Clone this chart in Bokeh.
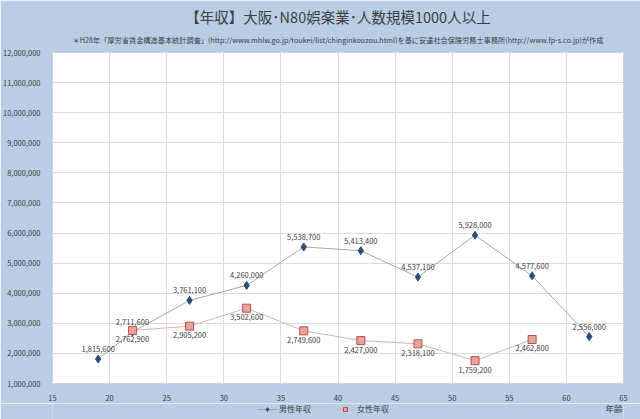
from bokeh.plotting import figure
from bokeh.layouts import column
from bokeh.models import (ColumnDataSource, Label, Legend, LegendItem, NumeralTickFormatter,
                          FixedTicker, Range1d, Title)
from bokeh.core.properties import value
from bokeh.embed import file_html
from bokeh.resources import INLINE

male_age = [19, 22, 27, 32, 37, 42, 47, 52, 57, 62]
male_income = [1815600, 2711600, 3761100, 4260000, 5538700, 5413400, 4537100, 5928000, 4577600, 2556000]
female_age = [22, 27, 32, 37, 42, 47, 52, 57]
female_income = [2762900, 2905200, 3502600, 2749600, 2427000, 2318100, 1759200, 2462800]
x_ticks = [15, 20, 25, 30, 35, 40, 45, 50, 55, 60, 65]
y_ticks = [1000000 * i for i in range(1, 13)]
title = "【年収】大阪･N80娯楽業･人数規模1000人以上"
subtitle = "＊H28年「厚労省賃金構造基本統計調査」(http://www.mhlw.go.jp/toukei/list/chinginkouzou.html)を基に安達社会保険労務士事務所(http://www.fp-s.co.jp)が作成"
series_names = ["男性年収", "女性年収"]
x_title = "年齢"

FONT = "Noto Sans CJK JP"
BG = "#b9cde5"
TXT = "#404040"
M_LINE, M_FILL = "#a6a6a6", "#2f4b7c"
F_LINE, F_FILL, F_EDGE = "#d8b4b0", "#e8a39c", "#b5524c"

p = figure(width=640, height=403, output_backend="svg", toolbar_location=None,
           x_range=Range1d(15, 65), y_range=Range1d(1000000, 12000000),
           min_border_left=49, min_border_right=17, min_border_top=52, min_border_bottom=16)
p.background_fill_color = "white"
p.border_fill_color = BG
p.outline_line_color = "#d0d0d0"

p.title.text = title
p.title.align = "center"
p.title.offset = -15
p.title.standoff = -4
p.title.text_font = FONT
p.title.text_font_size = "14.5px"
p.title.text_font_style = "normal"
p.title.text_color = TXT
p.add_layout(Title(text=subtitle, align="center", standoff=16, text_font=FONT, text_font_size="7.2px",
                   text_font_style="normal", text_color=TXT), "above")

p.xaxis.ticker = FixedTicker(ticks=x_ticks)
p.yaxis.ticker = FixedTicker(ticks=y_ticks)
p.yaxis.formatter = NumeralTickFormatter(format="0,0")
for ax in (p.xaxis, p.yaxis):
    ax.axis_line_color = None
    ax.major_tick_line_color = None
    ax.minor_tick_line_color = None
    ax.major_label_text_font = FONT
    ax.major_label_text_font_size = "7.5px"
    ax.major_label_text_color = TXT
p.yaxis.major_label_standoff = 6
p.xaxis.major_label_standoff = 5
p.grid.grid_line_color = "#dcdcdc"

ms = ColumnDataSource(dict(x=male_age, y=male_income, t=[f"{v:,}" for v in male_income]))
fs = ColumnDataSource(dict(x=female_age, y=female_income, t=[f"{v:,}" for v in female_income]))

p.line("x", "y", source=ms, line_color=M_LINE, line_width=1)
p.scatter("x", "y", source=ms, marker="diamond", size=8, fill_color=M_FILL, line_color=M_FILL)
p.line("x", "y", source=fs, line_color=F_LINE, line_width=1)
p.scatter("x", "y", source=fs, marker="square", size=8, fill_color=F_FILL, line_color=F_EDGE)

p.text("x", "y", text="t", source=ms, text_font=value(FONT), text_font_size="7.5px", text_color=TXT,
       text_align="center", text_baseline="bottom", y_offset=-7)
p.text("x", "y", text="t", source=fs, text_font=value(FONT), text_font_size="7.5px", text_color=TXT,
       text_align="center", text_baseline="top", y_offset=6)

# legend strip below the chart (its frame lines up with the chart's frame)
lg = figure(width=640, height=16, output_backend="svg", toolbar_location=None,
            x_range=Range1d(15, 65), y_range=Range1d(0, 1),
            x_axis_location=None, y_axis_location=None,
            min_border_left=49, min_border_right=17, min_border_top=0, min_border_bottom=0)
lg.grid.visible = False
lg.outline_line_color = None
lg.background_fill_color = BG
lg.border_fill_color = BG
# same data as the chart; it falls outside this strip's y range, so only the legend glyphs show
l1 = lg.line("x", "y", source=ms, line_color=M_LINE, line_width=1)
s1 = lg.scatter("x", "y", source=ms, marker="diamond", size=7, fill_color=M_FILL, line_color=M_FILL)
l2 = lg.line("x", "y", source=fs, line_color=F_LINE, line_width=1)
s2 = lg.scatter("x", "y", source=fs, marker="square", size=7, fill_color=F_FILL, line_color=F_EDGE)
legend = Legend(items=[LegendItem(label=series_names[0], renderers=[l1, s1]),
                       LegendItem(label=series_names[1], renderers=[l2, s2])],
                orientation="horizontal", location=(205, 5),
                background_fill_alpha=0, border_line_color=None,
                label_text_font=FONT, label_text_font_size="8px", label_text_color=TXT,
                glyph_width=20, glyph_height=10, label_height=10, spacing=24, padding=0, margin=0,
                label_standoff=2)
lg.add_layout(legend, "center")
lg.add_layout(Label(x=65, y=0.7, text=x_title, text_align="right", x_offset=-1,
                    text_baseline="middle", text_font=FONT, text_font_size="8.5px", text_color=TXT))

open("out.html", "w").write(file_html(column(p, lg, spacing=0), INLINE))
